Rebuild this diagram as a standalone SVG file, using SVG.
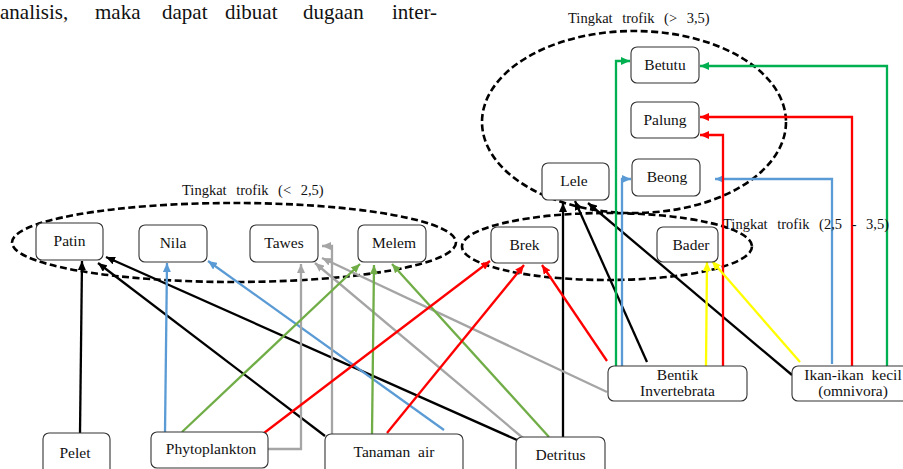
<svg xmlns="http://www.w3.org/2000/svg" width="903" height="469" viewBox="0 0 903 469">
<style>
.box{fill:#fff;stroke:#333;stroke-width:1.1}
.t{font-family:"Liberation Serif","Times New Roman",serif;font-size:15.5px;fill:#111;text-anchor:middle}
.lbl{font-family:"Liberation Serif","Times New Roman",serif;font-size:14.5px;fill:#111;word-spacing:6px}
.ell{fill:none;stroke:#000;stroke-width:2.6;stroke-dasharray:7 3.5}
.c{fill:none;stroke-width:2.3}
.k{stroke:#000;marker-end:url(#ak)}
.b{stroke:#5B9BD5;marker-end:url(#ab)}
.g{stroke:#A5A5A5;marker-end:url(#ag)}
.gr{stroke:#70AD47;marker-end:url(#agr)}
.r{stroke:#FF0000;marker-end:url(#ar)}
.y{stroke:#FFFF00;marker-end:url(#ay)}
.gg{stroke:#00B050;marker-end:url(#agg)}
</style>
<defs>
<marker id="ak" markerUnits="userSpaceOnUse" markerWidth="10" markerHeight="8" refX="9" refY="4" orient="auto"><path d="M0,0 L9,4 L0,8 z" fill="#000"/></marker>
<marker id="ab" markerUnits="userSpaceOnUse" markerWidth="10" markerHeight="8" refX="9" refY="4" orient="auto"><path d="M0,0 L9,4 L0,8 z" fill="#5B9BD5"/></marker>
<marker id="ag" markerUnits="userSpaceOnUse" markerWidth="10" markerHeight="8" refX="9" refY="4" orient="auto"><path d="M0,0 L9,4 L0,8 z" fill="#A5A5A5"/></marker>
<marker id="agr" markerUnits="userSpaceOnUse" markerWidth="10" markerHeight="8" refX="9" refY="4" orient="auto"><path d="M0,0 L9,4 L0,8 z" fill="#70AD47"/></marker>
<marker id="ar" markerUnits="userSpaceOnUse" markerWidth="10" markerHeight="8" refX="9" refY="4" orient="auto"><path d="M0,0 L9,4 L0,8 z" fill="#FF0000"/></marker>
<marker id="ay" markerUnits="userSpaceOnUse" markerWidth="10" markerHeight="8" refX="9" refY="4" orient="auto"><path d="M0,0 L9,4 L0,8 z" fill="#FFFF00"/></marker>
<marker id="agg" markerUnits="userSpaceOnUse" markerWidth="10" markerHeight="8" refX="9" refY="4" orient="auto"><path d="M0,0 L9,4 L0,8 z" fill="#00B050"/></marker>
</defs>
<rect width="903" height="469" fill="#fff"/>
<text y="19" font-family="Liberation Serif, Times New Roman, serif" font-size="21" fill="#111"><tspan x="0">analisis,</tspan><tspan x="95">maka</tspan><tspan x="162">dapat</tspan><tspan x="225">dibuat</tspan><tspan x="303">dugaan</tspan><tspan x="392">inter-</tspan></text>
<g id="groups">
<ellipse class="ell" cx="634" cy="122" rx="152" ry="91"/>
<ellipse class="ell" cx="234" cy="242.5" rx="222" ry="39.5"/>
<ellipse class="ell" cx="607" cy="246.5" rx="145" ry="33.5"/>
</g>
<g id="connectors" class="c">
<path class="c k" d="M80,433 L82,261"/>
<path class="c k" d="M325,436 L98,263"/>
<path class="c k" d="M517,440 L106,257"/>
<path class="c k" d="M563,437 L563,203"/>
<path class="c k" d="M647,362 L575,201"/>
<path class="c k" d="M792,375 L588,203"/>
<path class="c b" d="M165,432 L167,263"/>
<path class="c b" d="M444,430 L208,261"/>
<path class="c b" d="M622,366 V179 H631"/>
<path class="c b" d="M832,364 V179 H715"/>
<path class="c g" d="M268,449 H301 V264"/>
<path class="c g" d="M332,434 V246 H322"/>
<path class="c g" d="M523,438 L315,263"/>
<path class="c g" d="M607,392 L322,258"/>
<path class="c gr" d="M182,432 L360,264"/>
<path class="c gr" d="M372,434 L374,265"/>
<path class="c gr" d="M549,437 L392,264"/>
<path class="c r" d="M264,433 L490,261"/>
<path class="c r" d="M387,433 L524,265"/>
<path class="c r" d="M607,361 L542,265"/>
<path class="c r" d="M723,366 V135 H700"/>
<path class="c r" d="M852,366 V117 H700"/>
<path class="c y" d="M706,366 L707,262"/>
<path class="c y" d="M800,362 L712,261"/>
<path class="c gg" d="M616,366 V61 H630"/>
<path class="c gg" d="M887,366 V66 H700"/>
</g>
<g id="labels">
<text class="lbl" x="568" y="23">Tingkat trofik (&gt; 3,5)</text>
<text class="lbl" x="182" y="195">Tingkat trofik (&lt; 2,5)</text>
<text class="lbl" x="723" y="229">Tingkat trofik (2,5 - 3,5)</text>
</g>
<g id="betutu"><rect class="box" x="631" y="47" width="68" height="36" rx="6"/><text class="t" x="665" y="70">Betutu</text></g>
<g id="palung"><rect class="box" x="631" y="102" width="68" height="36" rx="6"/><text class="t" x="665" y="125">Palung</text></g>
<g id="beong"><rect class="box" x="632" y="159" width="68" height="37" rx="6"/><text class="t" x="667" y="182">Beong</text></g>
<g id="lele"><rect class="box" x="542" y="163" width="67" height="37" rx="6"/><text class="t" x="574" y="186">Lele</text></g>
<g id="patin"><rect class="box" x="36" y="223" width="67" height="37" rx="6"/><text class="t" x="69.5" y="246">Patin</text></g>
<g id="nila"><rect class="box" x="139" y="225" width="68" height="37" rx="6"/><text class="t" x="173" y="248">Nila</text></g>
<g id="tawes"><rect class="box" x="250" y="225" width="68" height="37" rx="6"/><text class="t" x="284" y="248">Tawes</text></g>
<g id="melem"><rect class="box" x="358" y="225" width="68" height="37" rx="6"/><text class="t" x="394" y="248">Melem</text></g>
<g id="brek"><rect class="box" x="491" y="227" width="67" height="36" rx="6"/><text class="t" x="524.5" y="250">Brek</text></g>
<g id="bader"><rect class="box" x="657" y="227" width="61" height="35" rx="6"/><text class="t" x="691" y="250">Bader</text></g>
<g id="bentik"><rect class="box" x="608" y="366" width="139" height="35" rx="6"/><text class="t" x="677.5" y="380">Bentik</text><text class="t" x="677.5" y="396">Invertebrata</text></g>
<g id="ikan"><rect class="box" x="792" y="366" width="122" height="35" rx="6"/><text class="t" x="853" y="380" word-spacing="4">Ikan-ikan kecil</text><text class="t" x="853" y="396">(omnivora)</text></g>
<g id="pelet"><rect class="box" x="43" y="433" width="67" height="42" rx="6"/><text class="t" x="75" y="458">Pelet</text></g>
<g id="phytoplankton"><rect class="box" x="151" y="432" width="117" height="36" rx="6"/><text class="t" x="211" y="454">Phytoplankton</text></g>
<g id="tanaman"><rect class="box" x="325" y="434" width="138" height="42" rx="6"/><text class="t" x="394" y="457" word-spacing="4">Tanaman air</text></g>
<g id="detritus"><rect class="box" x="516" y="437" width="89" height="42" rx="6"/><text class="t" x="560.5" y="460">Detritus</text></g>
</svg>
